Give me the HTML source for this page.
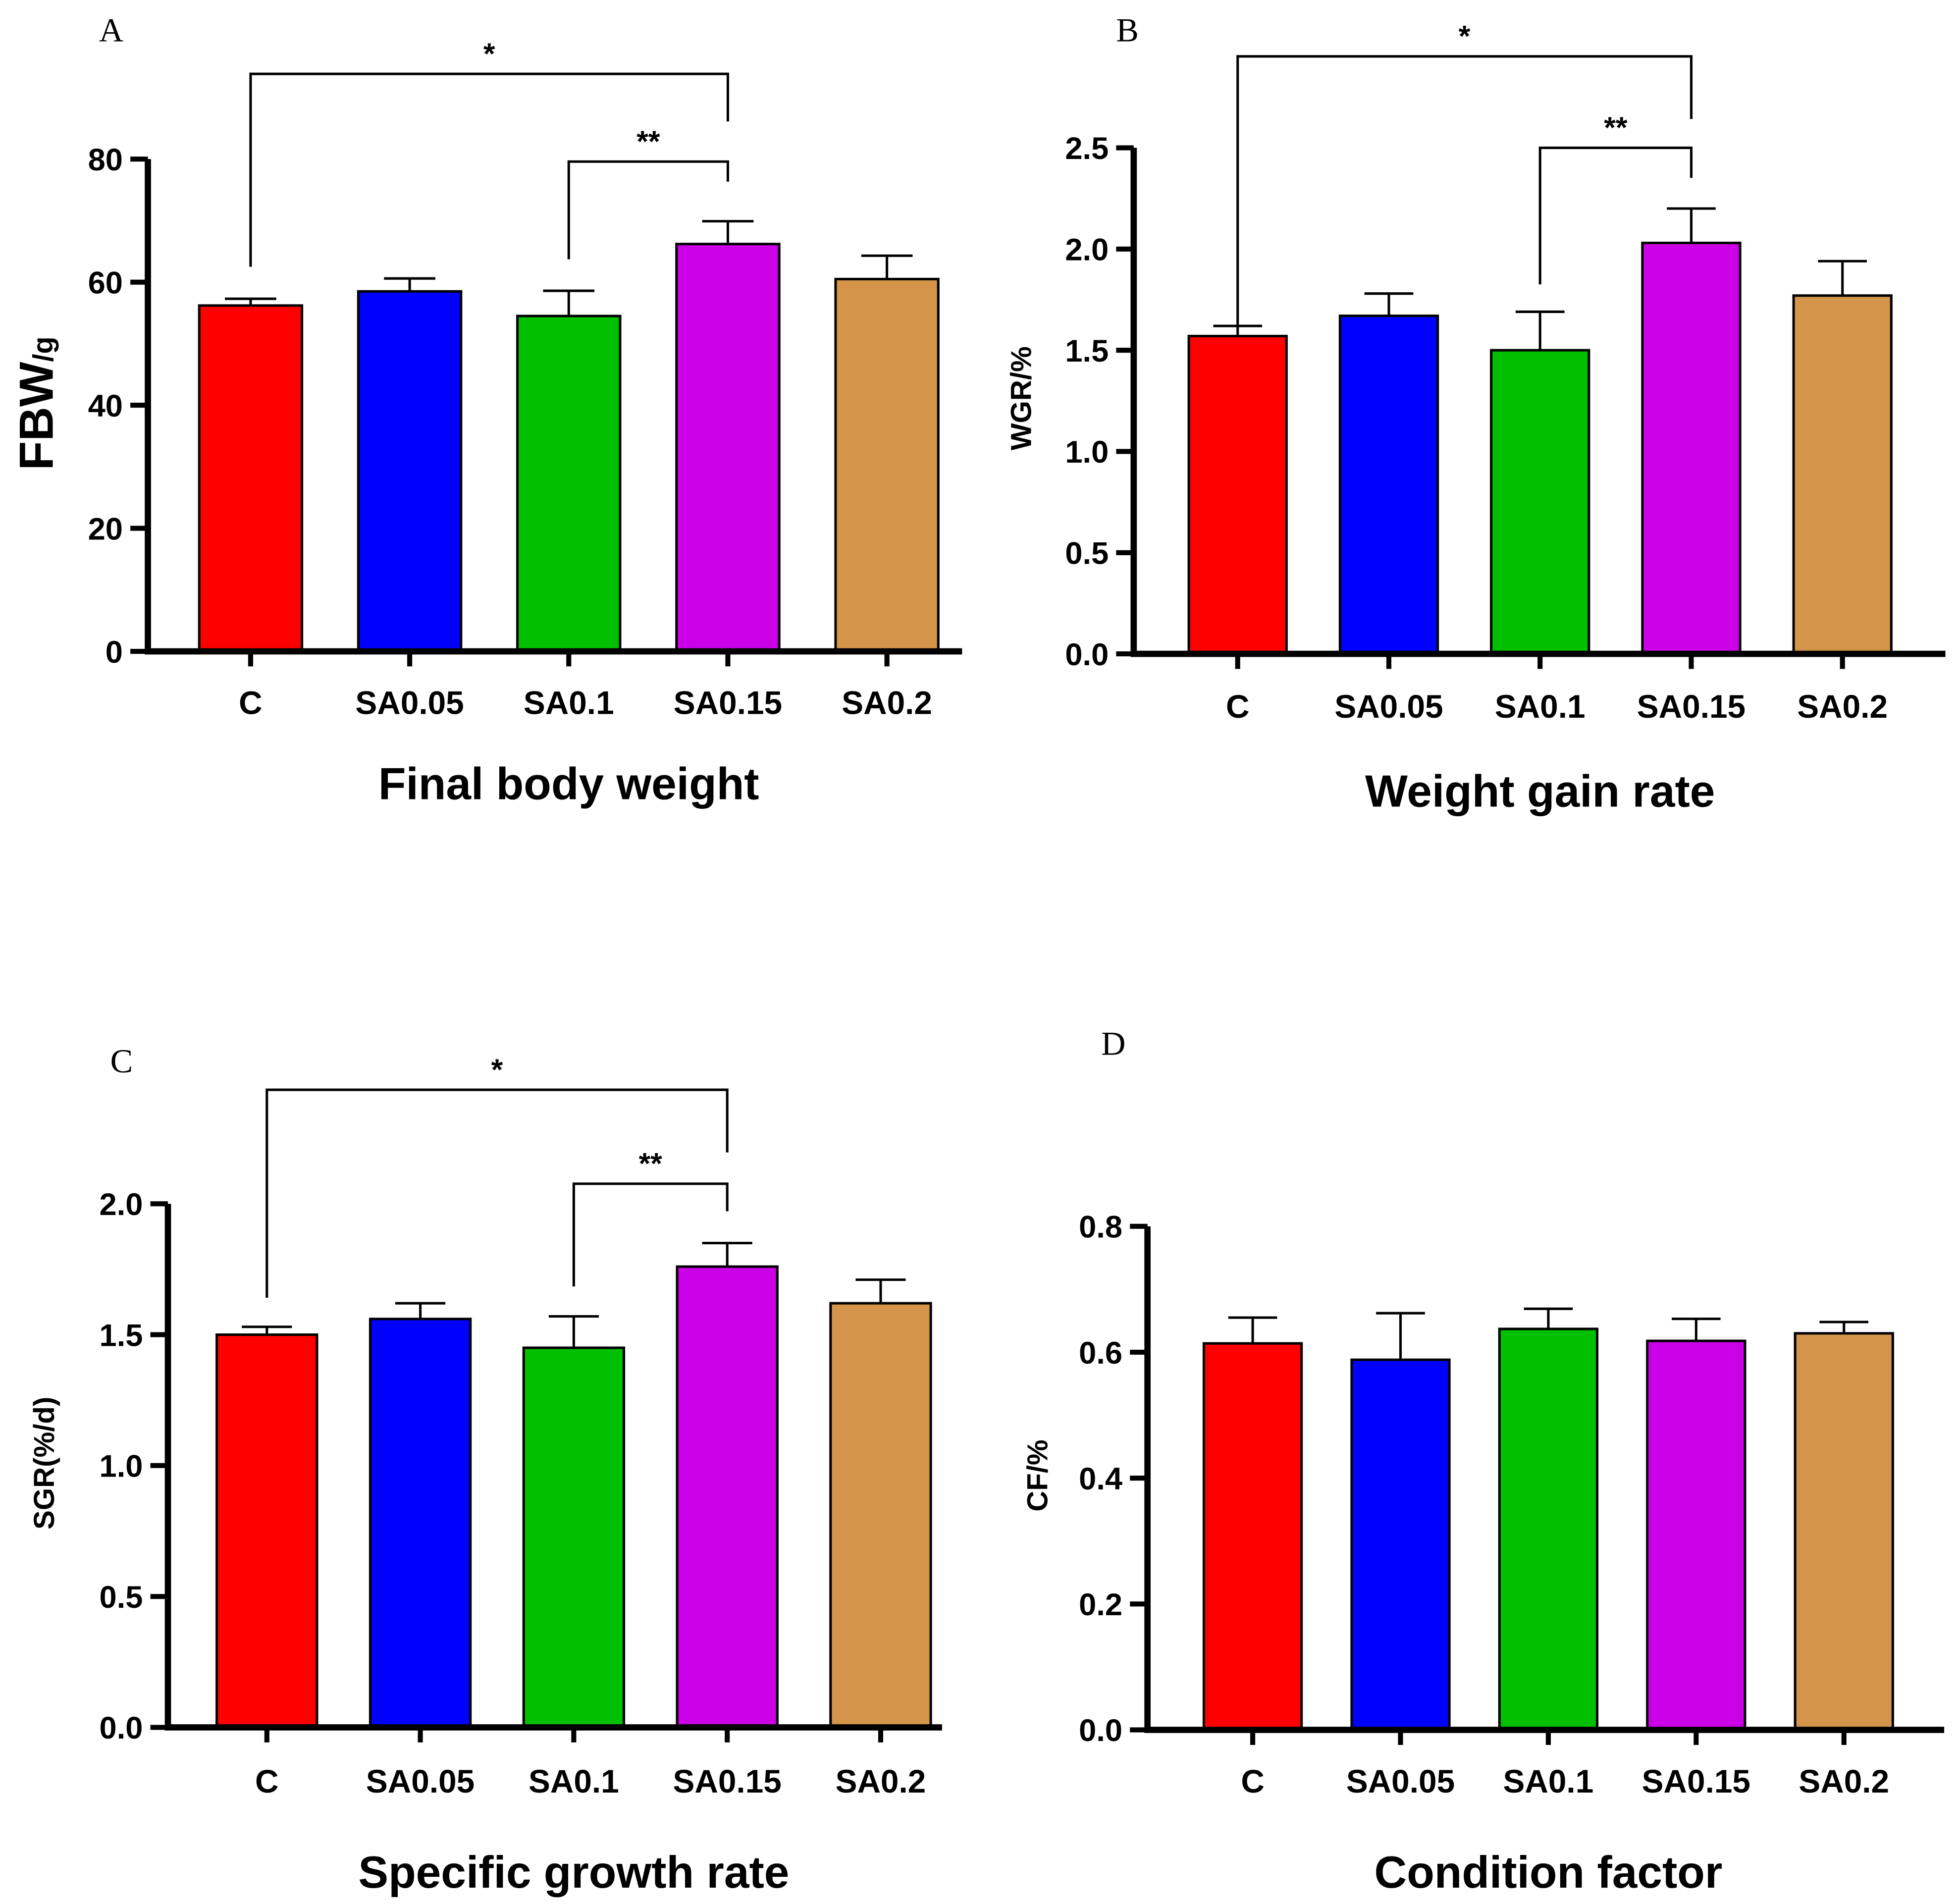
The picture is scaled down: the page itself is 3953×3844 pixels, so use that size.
<!DOCTYPE html>
<html><head><meta charset="utf-8"><style>html,body{margin:0;padding:0;background:#fff}svg{display:block}</style></head>
<body>
<svg id="chart" xmlns="http://www.w3.org/2000/svg" width="3953" height="3844" viewBox="0 0 1563 1520" font-family="Liberation Sans, Arial, sans-serif">
<rect width="1563" height="1520" fill="#fff"/>
</svg>
<script>
const categories = ["C","SA0.05","SA0.1","SA0.15","SA0.2"];
const colors = ["#ff0000","#0000ff","#00c000","#cc00e6","#d4954b"];
const valuesA = [56.2,58.5,54.5,66.2,60.5];
const errA = [1.1,2.1,4.1,3.7,3.8];
const ticksA = [0,20,40,60,80];
const valuesB = [1.57,1.67,1.50,2.03,1.77];
const errB = [0.05,0.11,0.19,0.17,0.17];
const ticksB = [0,0.5,1.0,1.5,2.0,2.5];
const valuesC = [1.50,1.56,1.45,1.76,1.62];
const errC = [0.03,0.06,0.12,0.09,0.09];
const ticksC = [0,0.5,1.0,1.5,2.0];
const valuesD = [0.614,0.588,0.637,0.618,0.630];
const errD = [0.041,0.074,0.032,0.035,0.018];
const ticksD = [0,0.2,0.4,0.6,0.8];

const NS="http://www.w3.org/2000/svg";
const svg=document.getElementById('chart');
function mk(tag,attrs,parent,text){const e=document.createElementNS(NS,tag);for(const k in attrs)e.setAttribute(k,attrs[k]);if(text!==undefined)e.textContent=text;(parent||svg).appendChild(e);return e;}

function panel(cfg){
  const g=mk('g',{});
  
  
  const y=v=>cfg.y0-(v-cfg.tmin)/(cfg.tmax-cfg.tmin)*(cfg.y0-cfg.y1);
  const xc=i=>cfg.c0+i*cfg.dx;
  cfg.values.forEach((v,i)=>{
    const b=mk('rect',{x:xc(i)-cfg.bw/2,y:y(v),width:cfg.bw,height:cfg.y0-y(v),fill:colors[i],stroke:'#000','stroke-width':2},g);
    
    
    const top=y(v+cfg.err[i]);
    const el=mk('path',{d:`M${xc(i)},${y(v)}V${top}M${xc(i)-cfg.bw/4},${top}H${xc(i)+cfg.bw/4}`,stroke:'#000','stroke-width':2,fill:'none'},g);
    
    
    mk('line',{x1:xc(i),x2:xc(i),y1:cfg.y0,y2:cfg.y0+12,stroke:'#000','stroke-width':4},g);
    const lb=mk('text',{x:xc(i),y:cfg.labY,'text-anchor':'middle','font-size':26,'font-weight':'bold'},g,categories[i]);
    
    
  });
  const ax=mk('path',{d:`M${cfg.x0},${y(cfg.tmax)}V${cfg.y0}H${cfg.xEnd}`,stroke:'#000','stroke-width':5,fill:'none'},g);
  
  
  cfg.ticks.forEach(t=>{
    mk('line',{x1:cfg.x0-14,x2:cfg.x0,y1:y(t),y2:y(t),stroke:'#000','stroke-width':4},g);
    const tl=mk('text',{x:cfg.x0-20,y:y(t)+9,'text-anchor':'end','font-size':25,'font-weight':'bold'},g,cfg.fmt(t));
    
    
  });
  cfg.brackets.forEach(br=>{
    const p=mk('path',{d:`M${xc(br.a)},${br.la}V${br.y}H${xc(br.b)}V${br.lb}`,stroke:'#000','stroke-width':2,fill:'none'},g);
    
    
    const s=mk('text',{x:(xc(br.a)+xc(br.b))/2,y:br.y-8,'text-anchor':'middle','font-size':24,'font-weight':'bold'},g,br.s);
    
    
  });
  const tt=mk('text',{x:xc(2),y:cfg.titleY,'text-anchor':'middle','font-size':36,'font-weight':'bold'},g,cfg.title);
  
  
  const yl=mk('text',{transform:`translate(${cfg.ylx},${cfg.yly}) rotate(-90)`,'text-anchor':'middle','font-size':cfg.ylfs,'font-weight':'bold'},g);
  
  
  mk('tspan',{},yl,cfg.ylab);
  if(cfg.ysub)mk('tspan',{'font-size':cfg.ylfs*0.6},yl,cfg.ysub);
  const pl=mk('text',{x:cfg.px,y:cfg.py,'font-size':27,'font-family':'Liberation Serif, serif'},g,cfg.id);
  
  
}
const f0=t=>String(t), f1=t=>t.toFixed(1);
panel({id:'A',values:valuesA,err:errA,ticks:ticksA,tmin:0,tmax:80,y0:520,y1:127,x0:118,xEnd:768,c0:200,dx:127,bw:82,labY:570,titleY:638,title:'Final body weight',ylab:'FBW',ysub:'/g',ylfs:38,ylx:42,yly:322,px:79,py:33,fmt:f0,
  brackets:[{a:0,b:3,y:59,la:213,lb:97,s:'*'},{a:2,b:3,y:129,la:207,lb:145,s:'**'}]});
panel({id:'B',values:valuesB,err:errB,ticks:ticksB,tmin:0,tmax:2.5,y0:522,y1:118,x0:905,xEnd:1553,c0:988,dx:120.7,bw:78,labY:573,titleY:644,title:'Weight gain rate',ylab:'WGR/%',ylfs:23,ylx:823,yly:318,px:891,py:33,fmt:f1,
  brackets:[{a:0,b:3,y:45,la:262,lb:95,s:'*'},{a:2,b:3,y:118,la:227,lb:142,s:'**'}]});
panel({id:'C',values:valuesC,err:errC,ticks:ticksC,tmin:0,tmax:2.0,y0:1379,y1:961,x0:134,xEnd:752,c0:213,dx:122.5,bw:80,labY:1431,titleY:1507,title:'Specific growth rate',ylab:'SGR(%/d)',ylfs:23,ylx:43,yly:1168,px:88,py:856,fmt:f1,
  brackets:[{a:0,b:3,y:870,la:1036,lb:920,s:'*'},{a:2,b:3,y:945,la:1027,lb:967,s:'**'}]});
panel({id:'D',values:valuesD,err:errD,ticks:ticksD,tmin:0,tmax:0.8,y0:1381,y1:979,x0:916,xEnd:1552,c0:1000,dx:118,bw:78,labY:1431,titleY:1507,title:'Condition factor',ylab:'CF/%',ylfs:23,ylx:836,yly:1178,px:879,py:842,fmt:f1,brackets:[]});
</script>
</body></html>
